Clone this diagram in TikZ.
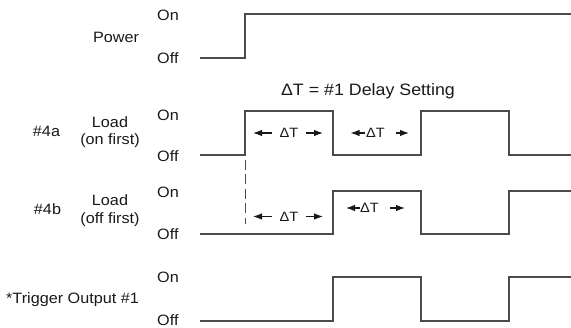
\documentclass[tikz,border=0pt]{standalone}
\usepackage{fontspec}
\setmainfont{Liberation Sans}[FakeStretch=1.08]
\usetikzlibrary{arrows.meta}
\begin{document}
\begin{tikzpicture}[x=1pt,y=-1pt,
  lbl/.style={font=\fontsize{15}{17}\selectfont, text=black!90, inner sep=0pt, anchor=base},
  onoff/.style={lbl, anchor=base west},
  wave/.style={line width=1.1pt, draw=black!70},
  dashline/.style={line width=0.8pt, draw=black!70, dash pattern=on 10pt off 4.5pt},
  dt/.style={line width=1.1pt, -{Latex[length=9pt,width=6.5pt]}, draw=black!90, fill=black!90},
  dtlbl/.style={lbl, font=\fontsize{13.5}{15}\selectfont, anchor=center}]
\useasboundingbox (0,0) rectangle (571,328);

% ---- Power ----
\node[lbl] (power) at (116,43) {Power};
\node[onoff] (pon) at (157,21) {On};
\node[onoff] (poff) at (157,64) {Off};
\draw[wave] (200,58) -- (245,58) -- (245,14) -- (571,14);

% ---- header ----
\node[lbl, font=\fontsize{16.5}{18}\selectfont] (hdr) at (368,96) {ΔT = \#1 Delay Setting};

% ---- #4a ----
\node[lbl] (n4a) at (46.5,137) {\#4a};
\node[lbl] (la1) at (110,128) {Load};
\node[lbl] (la2) at (110,145) {(on first)};
\node[onoff] (aon) at (157,121) {On};
\node[onoff] (aoff) at (157,162) {Off};
\draw[wave] (200,155) -- (245,155) -- (245,111) -- (333,111) -- (333,155)
  -- (421,155) -- (421,111) -- (509,111) -- (509,155) -- (571,155);

\node[dtlbl] (dta1) at (289,133) {ΔT};
\draw[dt] (272,133) -- (253,133);
\draw[dt] (306,133) -- (323,133);
\node[dtlbl] (dta2) at (375.5,133) {ΔT};
\draw[dt] (365,133) -- (350.5,133);
\draw[dt] (396,133) -- (409,133);

% ---- dashed marker ----
\draw[dashline] (245,160) -- (245,224);

% ---- #4b ----
\node[lbl] (n4b) at (47.5,215) {\#4b};
\node[lbl] (lb1) at (110,206) {Load};
\node[lbl] (lb2) at (110,224) {(off first)};
\node[onoff] (bon) at (157,198) {On};
\node[onoff] (boff) at (157,240) {Off};
\draw[wave] (200,234) -- (333,234) -- (333,191) -- (421,191) -- (421,234)
  -- (509,234) -- (509,191) -- (571,191);

\node[dtlbl] (dtb1) at (289,216.5) {ΔT};
\draw[dt] (272,216.5) -- (253,216.5);
\draw[dt] (306,216.5) -- (323,216.5);
\node[dtlbl] (dtb2) at (369.5,208) {ΔT};
\draw[dt] (360,208) -- (346,208);
\draw[dt] (390,208) -- (405,208);

% ---- Trigger ----
\node[lbl] (trig) at (72.5,304) {*Trigger Output \#1};
\node[onoff] (ton) at (157,283) {On};
\node[onoff] (toff) at (157,326) {Off};
\draw[wave] (200,321) -- (333,321) -- (333,277) -- (421,277) -- (421,321)
  -- (509,321) -- (509,277) -- (571,277);
\end{tikzpicture}
\end{document}
